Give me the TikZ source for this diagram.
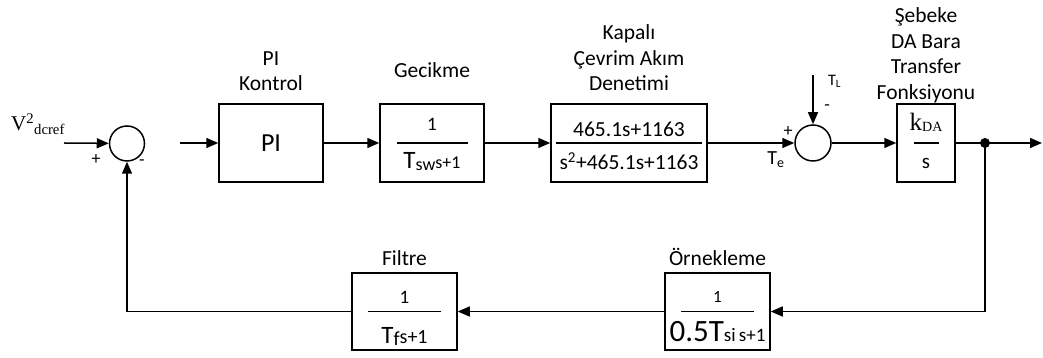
\documentclass[tikz,border=0pt]{standalone}
\usepackage{fontspec}
\setmainfont{Carlito}
\newfontfamily\timesfont{Liberation Serif}
\usetikzlibrary{arrows.meta,positioning}
\newcommand{\sz}[1]{\fontsize{#1pt}{#1pt}\selectfont}

\tikzset{
  blk/.style={draw,line width=1.5pt,minimum height=78,inner sep=0pt},
  sumnode/.style={draw,circle,line width=1.5pt,minimum size=35,inner sep=0pt},
  lbl/.style={inner sep=0pt,align=center,font=\fontsize{21.5pt}{25.5pt}\selectfont},
  sgn/.style={inner sep=0pt},
  sig/.style={->,line width=1.5pt},
  fracrule/.style={line width=1.5pt},
  fracnum/.style={anchor=base,inner sep=0pt},
}

\begin{document}
\begin{tikzpicture}[x=1pt,y=1pt,>={Triangle[length=12pt,width=10pt]}]
  \useasboundingbox (0,0) rectangle (1043,358);

  % summing points
  \node[sumnode] (s1) at (127,214.5) {};
  \node[sumnode,minimum size=36] (s2) at (813,215) {};

  % forward path
  \node[blk,minimum width=104] (pi) at (271,215) {\sz{26}PI};
  \node[lbl,above=12pt of pi] (pilbl) {PI\\Kontrol};

  \node[blk,minimum width=104] (gec) at (432,215) {};
  \draw[fracrule] ([xshift=-35.5]gec.center) -- ([xshift=35.5]gec.center);
  \node[fracnum] (gecn) at ([yshift=12]gec.center) {\sz{19}1};
  \node[fracnum] (gecd) at ([yshift=-26]gec.center) {\sz{25}T\sz{18}\raisebox{-2pt}{sw}s+1};
  \node[lbl,above=25pt of gec] (geclbl) {Gecikme};

  \node[blk,minimum width=156] (cur) at (629,215) {};
  \draw[fracrule] ([xshift=-73]cur.center) -- ([xshift=73]cur.center);
  \node[fracnum] (curn) at ([yshift=6.6]cur.center) {\sz{21.5}465.1s+1163};
  \node[fracnum] (curd) at ([yshift=-26.7]cur.center) {\sz{21.5}s\textsuperscript{2}+465.1s+1163};
  \node[lbl,above=12pt of cur] (curlbl) {Kapalı\\Çevrim Akım\\Denetimi};

  \node[blk,minimum width=58] (kda) at (926,215) {};
  \draw[fracrule] ([xshift=-12.5]kda.center) -- ([xshift=12.5]kda.center);
  \node[fracnum] (kdan) at ([yshift=12.3]kda.center) {\timesfont\sz{25}k\raisebox{-1pt}{\sz{14}DA}};
  \node[fracnum] (kdad) at ([yshift=-26]kda.center) {\sz{21}s};
  \node[lbl,above=0.5pt of kda] (kdalbl) {Şebeke\\DA Bara\\Transfer\\Fonksiyonu};

  % feedback path
  \node[blk,minimum width=105,minimum height=77] (smp) at (717.5,46.5) {};
  \draw[fracrule] ([xshift=-36.5]smp.center) -- ([xshift=36.5]smp.center);
  \node[fracnum] (smpn) at ([yshift=8.5]smp.center) {\sz{17}1};
  \node[fracnum] (smpd) at ([yshift=-30]smp.center) {\sz{31}0.5T\sz{19}si\,s+1};
  \node[lbl,above=6pt of smp] (smplbl) {Örnekleme};

  \node[blk,minimum width=105,minimum height=77] (flt) at (404.5,46.5) {};
  \draw[fracrule] ([xshift=-36.5]flt.center) -- ([xshift=36.5]flt.center);
  \node[fracnum] (fltn) at ([yshift=8.4]flt.center) {\sz{19}1};
  \node[fracnum] (fltd) at ([yshift=-31.6]flt.center) {\sz{25}T\sz{20}\raisebox{-2pt}{f}s+1};
  \node[lbl,above=6pt of flt] (fltlbl) {Filtre};

  % signals and signs
  \node[anchor=base west,inner sep=0pt] (vref) at (11,227) {\timesfont\sz{21}V\textsuperscript{2}\textsubscript{dcref}};
  \node[sgn] (p1) at (96,198) {\sz{18}+};
  \node[sgn] (m1) at (142,195) {\sz{18}-};
  \node[sgn] (p2) at (788,226) {\sz{18}+};
  \node[sgn] (m2) at (827,250) {\sz{18}-};
  \node[sgn] (te) at (776,198) {\sz{20}T\textsubscript{e}};
  \node[sgn] (tl) at (834.5,276.5) {\sz{16}T\textsubscript{L}};

  \coordinate (vin) at (64,215);
  \coordinate (pin) at (180,215);
  \coordinate (tlin) at (813,283);
  \coordinate (br) at (985,215);
  \coordinate (out) at (1042,215);

  \draw[sig] (vin) -- (s1);
  \draw[sig] (pin) -- (pi);
  \draw[sig] (pi) -- (gec);
  \draw[sig] (gec) -- (cur);
  \draw[sig] (cur) -- (s2);
  \draw[sig] (tlin) -- (s2);
  \draw[sig] (s2) -- (kda);
  \draw[sig] (kda) -- (out);
  \draw[sig] (br) |- (smp);
  \draw[sig] (smp) -- (flt);
  \draw[sig] (flt) -| (s1);
  \fill (br) circle (5);
\end{tikzpicture}
\end{document}
